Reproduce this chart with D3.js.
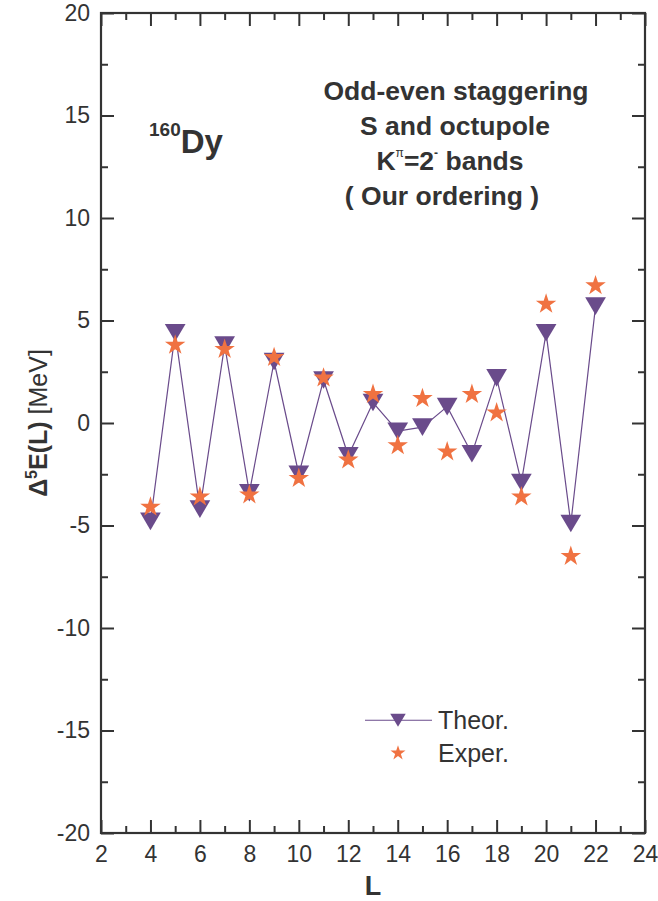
<!DOCTYPE html>
<html>
<head>
<meta charset="utf-8">
<script src="https://cdn.jsdelivr.net/npm/d3@7"></script>
<style>
  html, body { margin: 0; padding: 0; background: #fff; }
  svg { display: block; font-family: "Liberation Sans", Arial, Helvetica, sans-serif; }
</style>
</head>
<body>
<svg id="chart" width="658" height="901"></svg>
<script>
// Angular momentum L of each level
const spins = [4, 5, 6, 7, 8, 9, 10, 11, 12, 13, 14, 15, 16, 17, 18, 19, 20, 21, 22];
// Δ⁵E(L) in MeV, theoretical values
const theor = [-4.8, 4.4, -4.2, 3.8, -3.4, 3.0, -2.5, 2.1, -1.6, 1.0, -0.4, -0.2, 0.8, -1.5, 2.2, -2.9, 4.4, -4.9, 5.7];
// Δ⁵E(L) in MeV, experimental values
const exper = [-4.1, 3.8, -3.6, 3.6, -3.5, 3.2, -2.7, 2.2, -1.8, 1.4, -1.1, 1.2, -1.4, 1.4, 0.5, -3.6, 5.8, -6.5, 6.7];
// Axis ticks
const xTicks = [2, 4, 6, 8, 10, 12, 14, 16, 18, 20, 22, 24];
const xMinor = d3.range(3, 24, 2);
const yTicks = [-20, -15, -10, -5, 0, 5, 10, 15, 20];
const yMinor = [-17.5, -12.5, -7.5, -2.5, 2.5, 7.5, 12.5, 17.5];

const svg = d3.select("#chart");
const ink = "#333333";
const purple = "#6a4b8b";
const orange = "#f07241";

const L = 101, R = 645, T = 13, B = 833;
const x = d3.scaleLinear().domain([2, 24]).range([L, R]);
const y = d3.scaleLinear().domain([-20, 20]).range([B, T]);

// Down-pointing triangle, centred on its bounding box
const downTri = {
  draw(ctx, size) {
    const w = Math.sqrt(size), h = w * 0.85;
    ctx.moveTo(-w / 2, -h / 2);
    ctx.lineTo(w / 2, -h / 2);
    ctx.lineTo(0, h / 2);
    ctx.closePath();
  }
};

// Plain hyphen for negative tick labels
const fmt = d => String(d);

// Axes with inward ticks on all four sides
function axisGroup(axis, tx, ty) {
  const g = svg.append("g").attr("transform", `translate(${tx},${ty})`).call(axis);
  g.select(".domain").remove();
  g.selectAll("line").attr("stroke", ink).attr("stroke-width", 2);
  g.selectAll("text").attr("fill", ink).attr("font-size", 23)
    .attr("font-family", "'Liberation Sans', Arial, sans-serif");
  return g;
}
axisGroup(d3.axisBottom(x).tickValues(xTicks).tickSize(-13).tickPadding(13).tickFormat(fmt), 0, B);
axisGroup(d3.axisBottom(x).tickValues(xMinor).tickSize(-7).tickFormat(""), 0, B);
axisGroup(d3.axisTop(x).tickValues(xTicks).tickSize(-13).tickFormat(""), 0, T);
axisGroup(d3.axisTop(x).tickValues(xMinor).tickSize(-7).tickFormat(""), 0, T);
axisGroup(d3.axisLeft(y).tickValues(yTicks).tickSize(-13).tickPadding(11).tickFormat(fmt), L, 0);
axisGroup(d3.axisLeft(y).tickValues(yMinor).tickSize(-7).tickFormat(""), L, 0);
axisGroup(d3.axisRight(y).tickValues(yTicks).tickSize(-13).tickFormat(""), R, 0);
axisGroup(d3.axisRight(y).tickValues(yMinor).tickSize(-7).tickFormat(""), R, 0);

// Frame
svg.append("rect").attr("x", L).attr("y", T).attr("width", R - L).attr("height", B - T)
  .attr("fill", "none").attr("stroke", ink).attr("stroke-width", 2.2);

// Theoretical line and markers
const theorPts = spins.map((l, i) => [l, theor[i]]);
const experPts = spins.map((l, i) => [l, exper[i]]);
svg.append("path").datum(theorPts)
  .attr("d", d3.line().x(d => x(d[0])).y(d => y(d[1])))
  .attr("fill", "none").attr("stroke", purple).attr("stroke-width", 1.2);
svg.append("g").selectAll("path").data(theorPts).join("path")
  .attr("transform", d => `translate(${x(d[0])},${y(d[1])})`)
  .attr("d", d3.symbol().type(downTri).size(430))
  .attr("fill", purple);

// Experimental markers
svg.append("g").selectAll("path").data(experPts).join("path")
  .attr("transform", d => `translate(${x(d[0])},${y(d[1])})`)
  .attr("d", d3.symbol().type(d3.symbolStar).size(130))
  .attr("fill", orange);

// Axis titles
svg.append("text").attr("x", x(13)).attr("y", 895).attr("text-anchor", "middle")
  .attr("font-size", 27).attr("font-weight", "bold").attr("fill", ink).text("L");
const yt = svg.append("text").attr("transform", `translate(47,${y(0)}) rotate(-90)`)
  .attr("text-anchor", "middle").attr("font-size", 25).attr("fill", ink);
yt.append("tspan").attr("font-weight", "bold").text("Δ");
yt.append("tspan").attr("font-weight", "bold").attr("font-size", 16).attr("dy", -10).text("5");
yt.append("tspan").attr("font-weight", "bold").attr("dy", 10).text("E(L)");
yt.append("tspan").text(" [MeV]");

// Nucleus label
const nuc = svg.append("text").attr("x", 149).attr("y", 153).attr("fill", ink).attr("font-weight", "bold");
nuc.append("tspan").attr("font-size", 19).attr("dy", -17).text("160");
nuc.append("tspan").attr("font-size", 33).attr("dy", 17).text("Dy");

// Description block
const desc = svg.append("g").attr("fill", ink).attr("font-weight", "bold").attr("font-size", 26.5)
  .attr("text-anchor", "middle");
desc.append("text").attr("x", 456).attr("y", 100).text("Odd-even staggering");
desc.append("text").attr("x", 455).attr("y", 135).text("S and octupole");
const k = desc.append("text").attr("x", 450).attr("y", 170);
k.append("tspan").text("K");
k.append("tspan").attr("font-size", 12).attr("font-weight", "normal").attr("dy", -13).text("π");
k.append("tspan").attr("dy", 13).text("=2");
k.append("tspan").attr("font-size", 12).attr("dy", -13).text("-");
k.append("tspan").attr("dy", 13).text(" bands");
desc.append("text").attr("x", 442).attr("y", 205).text("( Our ordering )");

// Legend
const lg = svg.append("g");
lg.append("line").attr("x1", 365).attr("x2", 432).attr("y1", y(-14.5)).attr("y2", y(-14.5))
  .attr("stroke", purple).attr("stroke-width", 1.2);
lg.append("path").attr("transform", `translate(398,${y(-14.5)})`)
  .attr("d", d3.symbol().type(downTri).size(240)).attr("fill", purple);
lg.append("path").attr("transform", `translate(398,${y(-16.1)})`)
  .attr("d", d3.symbol().type(d3.symbolStar).size(70)).attr("fill", orange);
lg.append("text").attr("x", 438).attr("y", y(-14.5) + 9).attr("font-size", 25).attr("fill", ink).text("Theor.");
lg.append("text").attr("x", 438).attr("y", y(-16.1) + 9).attr("font-size", 25).attr("fill", ink).text("Exper.");
</script>
</body>
</html>
